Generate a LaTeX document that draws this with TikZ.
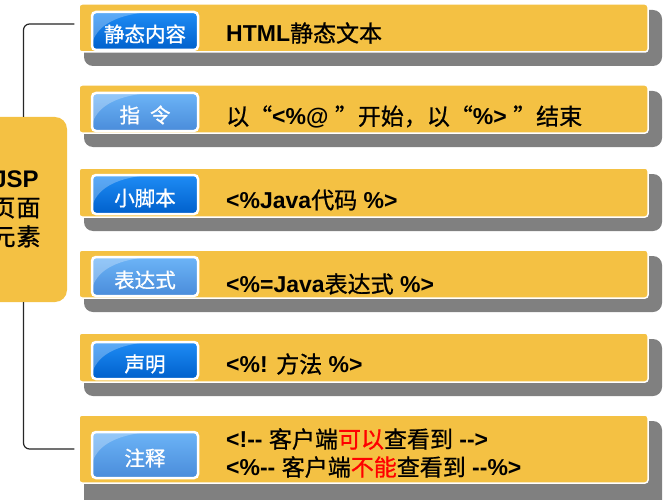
\documentclass[tikz,border=0pt]{standalone}
\usepackage{fontspec}
\setmainfont{Liberation Sans}
\newfontfamily\cjk[FakeBold=0.9]{Noto Sans CJK SC}
\newcommand\zh[1]{{\cjk\mdseries #1}}
\definecolor{barY}{HTML}{F4C143}
\definecolor{shadowG}{HTML}{808080}
\definecolor{dkTop}{HTML}{1E8CF5}
\definecolor{dkBot}{HTML}{0060CC}
\definecolor{ltTop}{HTML}{6CB4F7}
\definecolor{ltBot}{HTML}{4A8CDA}
\definecolor{redT}{HTML}{FF0000}
\tikzset{
  shadowbox/.style={fill=shadowG, rounded corners=9pt},
  barbox/.style={fill=barY, draw=white, line width=1.5pt, rounded corners=3pt,
    minimum width=569pt, minimum height=48pt, inner sep=0pt},
  btn/.style={draw=white, line width=2.5pt, rounded corners=4pt,
    minimum width=106pt, minimum height=38pt, inner sep=0pt},
  btndark/.style={btn, top color=dkTop, bottom color=dkBot},
  btnlight/.style={btn, top color=ltTop, bottom color=ltBot},
  txt/.style={anchor=west, inner sep=0pt, font=\fontsize{23}{28}\selectfont\bfseries, align=left},
  jspbox/.style={fill=barY, rounded corners=12pt, minimum width=87pt, minimum height=185pt, inner sep=0pt},
  jsptxt/.style={inner sep=0pt, align=center, font=\fontsize{24}{29}\selectfont\bfseries},
  conn/.style={draw=black!85, line width=1.2pt, rounded corners=6pt},
  btnlabel/.style={text=white, inner sep=0pt, font=\cjk\fontsize{20.5}{20}\selectfont}
}
\newcommand\gloss[1]{%
  \begin{scope}
    \clip[rounded corners=4pt] (#1.north west) rectangle (#1.south east);
    \fill[white, opacity=0.28] ([xshift=1.2pt,yshift=-1.2pt]#1.north west) -- ++(58,0)
      .. controls ++(-38,3) and ++(4,-16) .. ++(-58,32) -- cycle;
  \end{scope}}
\begin{document}
\begin{tikzpicture}[x=1pt,y=-1pt]
\useasboundingbox (0,0) rectangle (666,500);
\fill[white] (0,0) rectangle (666,500);
% shadows
\fill[shadowbox] (84,10) rectangle (662,66);
\fill[shadowbox] (84,91) rectangle (662,147);
\fill[shadowbox] (84,174) rectangle (662,231);
\fill[shadowbox] (84,256) rectangle (662,312);
\fill[shadowbox] (84,339) rectangle (662,396);
\fill[shadowbox] (84,421) rectangle (662,512);
% bars
\node[barbox] (bar1) at (363.5,28) {};
\node[barbox] (bar2) at (363.5,109) {};
\node[barbox, minimum height=49pt] (bar3) at (363.5,192.5) {};
\node[barbox] (bar4) at (363.5,274) {};
\node[barbox, minimum height=49pt] (bar5) at (363.5,357.5) {};
\node[barbox, minimum height=68pt] (bar6) at (363.5,449) {};
% buttons
\node[btndark] (b1) at (145,31) {};
\node[btnlight] (b2) at (145,112) {};
\node[btndark, minimum height=39pt] (b3) at (145,194.5) {};
\node[btnlight, minimum height=39pt] (b4) at (145,276.5) {};
\node[btndark, minimum height=37pt] (b5) at (145,360.5) {};
\node[btnlight, minimum height=46pt] (b6) at (145,455) {};
\foreach \b in {b1,b2,b3,b4,b5,b6} {\gloss{\b}}
\node[btnlabel] (l1) at (145,34) {静态内容};
\node[btnlabel] (l2) at (145,115) {指\hspace{10pt}令};
\node[btnlabel] (l3) at (145,198) {小脚本};
\node[btnlabel] (l4) at (145,280) {表达式};
\node[btnlabel] (l5) at (145,364) {声明};
\node[btnlabel] (l6) at (145,458) {注释};
% texts
\node[txt] (t1) at (226,33) {HTML\zh{静态文本}};
\node[txt] (t2) at (226,117) {\zh{以“}<\%@ \zh{”开始，以“}\%> \zh{”结束}};
\node[txt] (t3) at (226,200) {<\%Java\zh{代码} \%>};
\node[txt] (t4) at (226,284) {<\%=Java\zh{表达式} \%>};
\node[txt] (t5) at (226,364) {<\%! \zh{方法} \%>};
\node[txt] (t6) at (226,453) {<!-{}- \zh{客户端\textcolor{redT}{可以}查看到} -{}->\\
  <\%-{}- \zh{客户端\textcolor{redT}{不能}查看到} -{}-\%>};
% left box
\node[jspbox] (jsp) at (23.5,209.5) {};
\node[jsptxt] (jspl) at (16,209) {JSP\\ \zh{页\hspace{1pt}面}\\ \zh{元\hspace{1pt}素}};
% connectors
\draw[conn] ([xshift=-4pt,yshift=4pt]bar1.west) -| (jsp.north);
\draw[conn] (jsp.south) |- ([xshift=-4pt]bar6.west);
\end{tikzpicture}
\end{document}
